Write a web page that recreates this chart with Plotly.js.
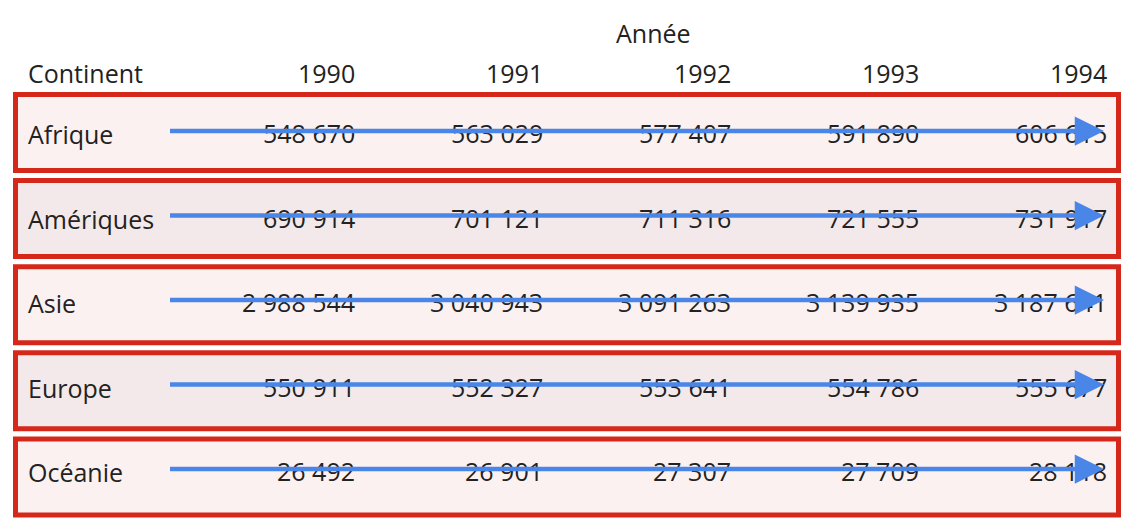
<!DOCTYPE html>
<html>
<head>
<meta charset="utf-8">
<script src="https://cdn.plot.ly/plotly-3.0.1.min.js"></script>
<style>html,body{margin:0;padding:0;background:#fff;}#chart{width:1132px;height:528px;}</style>
</head>
<body>
<div id="chart"></div>
<script>
// ---- Data ----
const continents = ['Afrique', 'Amériques', 'Asie', 'Europe', 'Océanie'];
const years = [1990, 1991, 1992, 1993, 1994];
const afrique   = [548670, 563029, 577407, 591890, 606615];
const ameriques = [690914, 701121, 711316, 721555, 731917];
const asie      = [2988544, 3040943, 3091263, 3139935, 3187641];
const europe    = [550911, 552327, 553641, 554786, 555677];
const oceanie   = [26492, 26901, 27307, 27709, 28118];
const headerRow = 'Continent';
const headerCol = 'Année';

const values = [afrique, ameriques, asie, europe, oceanie];

// ---- Helpers ----
function fmt(n) {
  return String(n).replace(/\B(?=(\d{3})+(?!\d))/g, ' ');
}
const W = 1132, H = 528;
const colPx = 188;            // pixels per year column
const x0px = 355;             // pixel position of 1990 column right edge
const row0px = 131, rowPx = 84.5;
const box0px = 132.5, boxPx = 86.1, boxHalf = 38;
const xmin = years[0] - x0px / colPx;
const xmax = years[0] + (W - x0px) / colPx;
const ymin = -row0px / rowPx;
const ymax = (H - row0px) / rowPx;
function xOf(px) { return years[0] + (px - x0px) / colPx; }
function yOf(px) { return (px - row0px) / rowPx; }

const font = {family: 'Open Sans, Noto Sans, sans-serif', size: 25, color: '#222'};
const annotations = [];
const shapes = [];
const fills = ['#fcf1f1', '#f3e9ea'];

// header
annotations.push({x: xOf(653), y: yOf(33), xref: 'x', yref: 'y', text: headerCol, showarrow: false,
  xanchor: 'center', yanchor: 'middle', font: font});
annotations.push({x: xOf(26), y: yOf(73), xref: 'x', yref: 'y', text: headerRow, showarrow: false,
  xanchor: 'left', yanchor: 'middle', font: font});
years.forEach(function (yr) {
  annotations.push({x: yr, y: yOf(73), xref: 'x', yref: 'y', text: String(yr), showarrow: false,
    xanchor: 'right', yanchor: 'middle', font: font, xshift: 2});
});

continents.forEach(function (c, i) {
  const bc = box0px + boxPx * i;
  shapes.push({type: 'rect', xref: 'paper', yref: 'y', layer: 'below',
    x0: 15.5 / W, x1: 1118.5 / W, y0: yOf(bc - boxHalf), y1: yOf(bc + boxHalf),
    fillcolor: fills[i % 2], line: {color: '#d5281b', width: 5}});
  annotations.push({x: xOf(26), y: i, xref: 'x', yref: 'y', text: c, showarrow: false,
    xanchor: 'left', yanchor: 'middle', yshift: -3, font: font});
  values[i].forEach(function (v, j) {
    annotations.push({x: years[j], y: i, xref: 'x', yref: 'y', text: fmt(v), showarrow: false,
      xanchor: 'right', yanchor: 'middle', yshift: -2, xshift: 2, font: font});
  });
});
// arrows (drawn last, on top of the numbers)
continents.forEach(function (c, i) {
  annotations.push({x: xOf(1104), y: i, xref: 'x', yref: 'y', ax: xOf(167), ay: i, axref: 'x', ayref: 'y',
    text: ' ', showarrow: true, arrowhead: 2, arrowsize: 1.3, arrowwidth: 4.5, arrowcolor: '#4a86e8'});
});

const layout = {
  width: W, height: H,
  margin: {l: 0, r: 0, t: 0, b: 0},
  paper_bgcolor: '#ffffff', plot_bgcolor: '#ffffff',
  showlegend: false,
  xaxis: {range: [xmin, xmax], visible: false, fixedrange: true},
  yaxis: {range: [ymax, ymin], visible: false, fixedrange: true},
  shapes: shapes,
  annotations: annotations
};

Plotly.newPlot('chart', [{x: [], y: [], type: 'scatter', mode: 'markers', hoverinfo: 'skip'}], layout,
  {displayModeBar: false, staticPlot: true});
</script>
</body>
</html>
